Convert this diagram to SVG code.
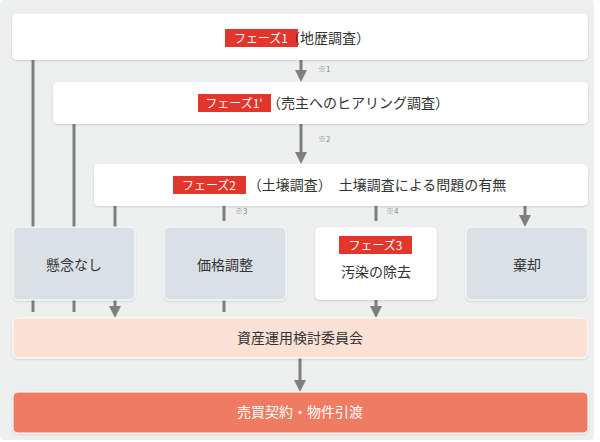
<svg xmlns="http://www.w3.org/2000/svg" width="600" height="442" viewBox="0 0 600 442">
<defs>
<marker id="ah" markerWidth="4" markerHeight="4" refX="2" refY="2" orient="auto" markerUnits="strokeWidth"><path d="M0,0 L4,2 L0,4 z" fill="#7f7f7f"/></marker>
<filter id="sh" x="-5%" y="-10%" width="110%" height="130%"><feDropShadow dx="0" dy="1" stdDeviation="1" flood-color="#000" flood-opacity="0.15"/></filter>
</defs>
<style>
text{font-family:"Noto Sans CJK JP","Noto Sans",sans-serif;fill:#333;text-anchor:middle}
.w{fill:#fff;filter:url(#sh)}
.g{fill:#d9e0e6;stroke:#fff;stroke-width:1;filter:url(#sh)}
.t{font-size:14px}
.tag{fill:#e2352b}
.tt{fill:#fff;font-size:12px}
.n{font-size:8px;fill:#888;text-anchor:start}
.c{stroke:#7f7f7f;stroke-width:3;fill:none}
.ca{stroke:#7f7f7f;stroke-width:3;fill:none;marker-end:url(#ah)}
</style>
<rect x="0" y="0" width="600" height="442" fill="#fff"/>
<rect x="0" y="0" width="594" height="440" rx="4" fill="#eef0f0"/>
<g id="connectors">
<path class="c" d="M33,60V300M74,124V300M115,206V300"/>
<path class="ca" d="M33,300V312M74,300V312M115,300V312"/>
<path class="ca" d="M301,60V76"/>
<path class="ca" d="M301,124V158"/>
<path class="ca" d="M224,206V221M376,206V221M525,206V221"/>
<path class="ca" d="M224,300V312M376,300V312"/>
<path class="ca" d="M300,358V386"/>
</g>
<g id="notes">
<text class="n" x="318" y="72">※1</text>
<text class="n" x="318" y="142">※2</text>
<text class="n" x="235" y="214">※3</text>
<text class="n" x="386" y="214">※4</text>
</g>
<g id="phase1"><rect class="w" x="12" y="14" width="576" height="46" rx="5"/>
<rect class="tag" x="225" y="29" width="73" height="18"/><text class="tt" x="261" y="42.5">フェーズ1</text>
<text class="t" x="328" y="43">（地歴調査）</text></g>
<g id="phase1b"><rect class="w" x="53" y="82" width="535" height="42" rx="5"/>
<rect class="tag" x="198" y="94" width="73" height="18"/><text class="tt" x="234" y="107.5">フェーズ1'</text>
<text class="t" x="358" y="108">（売主へのヒアリング調査）</text></g>
<g id="phase2"><rect class="w" x="94" y="164" width="494" height="42" rx="5"/>
<rect class="tag" x="173" y="165" width="73" height="18" transform="translate(0,11)"/><text class="tt" x="209" y="189.5">フェーズ2</text>
<text class="t" x="377" y="190">（土壌調査）　土壌調査による問題の有無</text></g>
<g id="n1"><rect class="g" x="13" y="227" width="122" height="73" rx="5"/><text class="t" x="74" y="270">懸念なし</text></g>
<g id="n2"><rect class="g" x="164" y="227" width="122" height="73" rx="5"/><text class="t" x="225" y="270">価格調整</text></g>
<g id="n3"><rect class="w" x="315" y="227" width="122" height="73" rx="5"/>
<rect class="tag" x="339" y="236" width="73" height="18"/><text class="tt" x="375.5" y="249.5">フェーズ3</text>
<text class="t" x="376" y="277">汚染の除去</text></g>
<g id="n4"><rect class="g" x="466" y="227" width="122" height="73" rx="5"/><text class="t" x="527" y="270">棄却</text></g>
<g id="committee"><rect x="13" y="318" width="575" height="40" rx="5" fill="#fbe0d6" stroke="#fff" filter="url(#sh)"/><text class="t" x="300" y="343">資産運用検討委員会</text></g>
<g id="contract"><rect x="13" y="392" width="575" height="41" rx="5" fill="#ef7c62" stroke="#fff" filter="url(#sh)"/><text class="t" x="300" y="417" style="fill:#fff">売買契約・物件引渡</text></g>
</svg>
